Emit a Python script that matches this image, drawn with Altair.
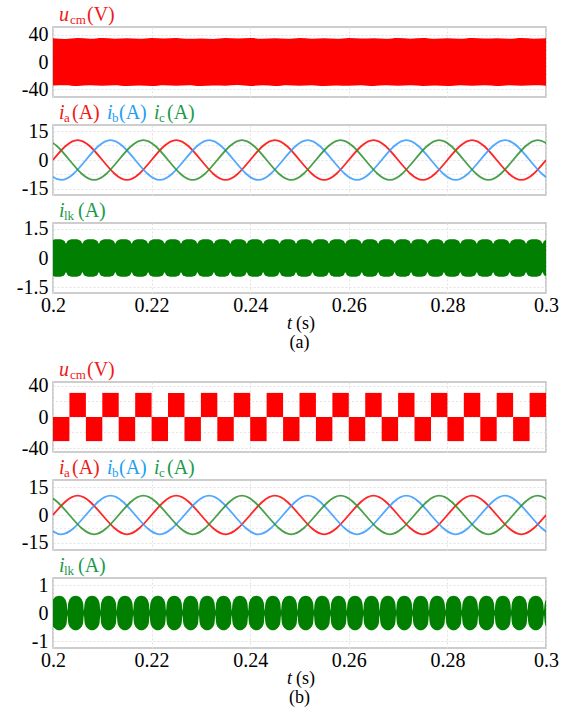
import altair as alt
import pandas as pd

FONT = "Liberation Serif"

# ---------------- values ----------------
X_TICKS = [0.2, 0.22, 0.24, 0.26, 0.28, 0.3]

# (a) common-mode voltage: envelope of the filled PWM band
UCM_A_T = [0.2, 0.2025, 0.205, 0.2075, 0.21, 0.2125, 0.215, 0.2175, 0.22, 0.2225,
           0.225, 0.2275, 0.23, 0.2325, 0.235, 0.2375, 0.24, 0.2425, 0.245, 0.2475,
           0.25, 0.2525, 0.255, 0.2575, 0.26, 0.2625, 0.265, 0.2675, 0.27, 0.2725,
           0.275, 0.2775, 0.28, 0.2825, 0.285, 0.2875, 0.29, 0.2925, 0.295, 0.2975, 0.3]
UCM_A_HI = [34.5, 33.6, 34.8, 33.9, 35.0, 34.0, 34.6, 33.7, 34.9, 34.1,
            35.1, 33.8, 34.4, 33.6, 34.8, 34.2, 35.0, 33.9, 34.5, 33.7,
            34.9, 34.0, 34.7, 33.8, 35.0, 34.1, 34.6, 33.7, 34.8, 34.0,
            35.0, 33.9, 34.5, 33.8, 34.9, 34.2, 34.7, 33.7, 34.8, 34.0, 34.6]
UCM_A_LO = [-34.3, -33.8, -34.9, -34.0, -34.7, -33.7, -34.8, -34.1, -35.0, -33.9,
            -34.6, -33.8, -34.9, -34.2, -34.5, -33.6, -34.8, -34.0, -35.0, -33.9,
            -34.6, -33.7, -34.9, -34.1, -34.7, -33.8, -35.0, -34.0, -34.6, -33.9,
            -34.8, -34.1, -34.9, -33.7, -34.6, -34.0, -35.0, -33.8, -34.7, -34.0, -34.5]

# three-phase currents, sampled every quarter period (peaks and zero crossings)
IA_T = [0.2, 0.205, 0.21, 0.215, 0.22, 0.225, 0.23, 0.235, 0.24, 0.245, 0.25,
        0.255, 0.26, 0.265, 0.27, 0.275, 0.28, 0.285, 0.29, 0.295, 0.3]
IA_V = [0, 10.5, 0, -10.5, 0, 10.5, 0, -10.5, 0, 10.5, 0,
        -10.5, 0, 10.5, 0, -10.5, 0, 10.5, 0, -10.5, 0]
IB_T = [0.19667, 0.20167, 0.20667, 0.21167, 0.21667, 0.22167, 0.22667, 0.23167,
        0.23667, 0.24167, 0.24667, 0.25167, 0.25667, 0.26167, 0.26667, 0.27167,
        0.27667, 0.28167, 0.28667, 0.29167, 0.29667, 0.30167, 0.30667]
IB_V = [0, -10.5, 0, 10.5, 0, -10.5, 0, 10.5, 0, -10.5, 0, 10.5,
        0, -10.5, 0, 10.5, 0, -10.5, 0, 10.5, 0, -10.5, 0]
IC_T = [0.19333, 0.19833, 0.20333, 0.20833, 0.21333, 0.21833, 0.22333, 0.22833,
        0.23333, 0.23833, 0.24333, 0.24833, 0.25333, 0.25833, 0.26333, 0.26833,
        0.27333, 0.27833, 0.28333, 0.28833, 0.29333, 0.29833, 0.30333]
IC_V = [0, 10.5, 0, -10.5, 0, 10.5, 0, -10.5, 0, 10.5, 0, -10.5,
        0, 10.5, 0, -10.5, 0, 10.5, 0, -10.5, 0, 10.5, 0]

# leakage current envelopes: one lobe profile (fraction of lobe, amplitude)
LOBE_PERIOD = 0.003333
N_LOBES = 31
ILK_A_START = 0.1993
ILK_A_F = [0.0, 0.08, 0.2, 0.35, 0.5, 0.65, 0.8, 0.92]
ILK_A_V = [0.74, 0.86, 0.93, 0.965, 0.975, 0.965, 0.93, 0.86]
ILK_B_START = 0.1996
ILK_B_F = [0.0, 0.04, 0.1, 0.2, 0.35, 0.5, 0.65, 0.8, 0.9, 0.96]
ILK_B_V = [0.08, 0.32, 0.45, 0.54, 0.6, 0.62, 0.6, 0.54, 0.45, 0.32]

# (b) common-mode voltage: square blocks
UCM_B_EDGES = [0.2, 0.20333, 0.20667, 0.21, 0.21333, 0.21667, 0.22, 0.22333, 0.22667,
               0.23, 0.23333, 0.23667, 0.24, 0.24333, 0.24667, 0.25, 0.25333, 0.25667,
               0.26, 0.26333, 0.26667, 0.27, 0.27333, 0.27667, 0.28, 0.28333, 0.28667,
               0.29, 0.29333, 0.29667, 0.3]
UCM_B_LEVEL = [-31, 31, -31, 31, -31, 31, -31, 31, -31, 31, -31, 31, -31, 31, -31,
               31, -31, 31, -31, 31, -31, 31, -31, 31, -31, 31, -31, 31, -31, 31]

RED, BLUE, GREEN = "#ff0000", "#3399ff", "#2a8f2a"
ILK_FILL = "#007f00"
LBL_RED, LBL_BLUE, LBL_GREEN = "#f01818", "#22a0f0", "#1c9a4c"

W, H = 493, 70
ONE = pd.DataFrame({"k": [0]})

# ---------------- tables ----------------
ucm_a_df = pd.DataFrame({"t": UCM_A_T, "hi": UCM_A_HI, "lo": UCM_A_LO})
cur_df = pd.concat([
    pd.DataFrame({"t": IA_T, "v": IA_V, "ph": "a"}),
    pd.DataFrame({"t": IB_T, "v": IB_V, "ph": "b"}),
    pd.DataFrame({"t": IC_T, "v": IC_V, "ph": "c"}),
])


def envelope(start, fr, vals):
    rows = []
    for k in range(N_LOBES + 1):
        for f, v in zip(fr, vals):
            rows.append({"t": start + (k + f) * LOBE_PERIOD, "hi": v, "lo": -v})
    return pd.DataFrame(rows)


ilk_a_df = envelope(ILK_A_START, ILK_A_F, ILK_A_V)
ilk_b_df = envelope(ILK_B_START, ILK_B_F, ILK_B_V)
ucm_b_df = pd.DataFrame({
    "t0": UCM_B_EDGES[:-1], "t1": UCM_B_EDGES[1:],
    "lo": [min(v, 0) for v in UCM_B_LEVEL], "hi": [max(v, 0) for v in UCM_B_LEVEL],
})

# ---------------- helpers ----------------
XS = alt.Scale(domain=[0.2, 0.3], nice=False, zero=False)
LBL = 20


def xaxis(show):
    return alt.Axis(values=X_TICKS, grid=True, labels=show, ticks=False, domain=False,
                    title=None, labelFlush=False, labelPadding=2, format="~g",
                    labelFontSize=LBL)


def yaxis(ticks):
    return alt.Axis(values=ticks, grid=True, ticks=False, domain=False, title=None,
                    labelExpr="replace(format(datum.value, '~g'), '\u2212', '-')",
                    labelPadding=5, labelFontSize=LBL)


def txt(text, x, y, size, color, italic=False, align="left", baseline="alphabetic"):
    return alt.Chart(ONE).mark_text(
        align=align, baseline=baseline, font=FONT, fontSize=size,
        fontStyle="italic" if italic else "normal", color=color
    ).encode(x=alt.value(x), y=alt.value(y), text=alt.value(text))


def grid_extra(vals, ys, ticks):
    return alt.Chart(pd.DataFrame({"g": vals})).mark_rule(
        color="#e4e4e4", strokeDash=[2, 2], strokeWidth=1
    ).encode(y=alt.Y("g:Q", scale=ys, axis=yaxis(ticks)))


def ilk_label():
    return [txt("i", 6, -6, 20, LBL_GREEN, True), txt("lk", 11, -3, 13, LBL_GREEN),
            txt("(A)", 25, -6, 20, LBL_GREEN)]


def ucm_label():
    return [txt("u", 6, -6, 20, LBL_RED, True), txt("cm", 17, -3, 13, LBL_RED),
            txt("(V)", 34, -6, 20, LBL_RED)]


def cur_label():
    return [txt("i", 6, -6, 20, LBL_RED, True), txt("a", 11, -3, 13, LBL_RED),
            txt("(A)", 19, -6, 20, LBL_RED),
            txt("i", 54, -6, 20, LBL_BLUE, True), txt("b", 59, -3, 13, LBL_BLUE),
            txt("(A)", 66, -6, 20, LBL_BLUE),
            txt("i", 101, -6, 20, LBL_GREEN, True), txt("c", 106, -3, 13, LBL_GREEN),
            txt("(A)", 114, -6, 20, LBL_GREEN)]


def time_label(tag):
    return [txt("t", 234, H + 31, 18, "black", True, baseline="middle"),
            txt("(s)", 243, H + 31, 18, "black", baseline="middle"),
            txt(tag, W / 2, H + 50, 18, "black", align="center", baseline="middle")]


def ucm_a_panel():
    ticks = [-40, 0, 40]
    ys = alt.Scale(domain=[-51, 51], nice=False)
    band = alt.Chart(ucm_a_df).mark_area(color=RED, interpolate="monotone").encode(
        x=alt.X("t:Q", scale=XS, axis=xaxis(False)),
        y=alt.Y("hi:Q", scale=ys, axis=yaxis(ticks)),
        y2="lo:Q")
    return alt.layer(grid_extra([-20, 20], ys, ticks), band, *ucm_label()).properties(
        width=W, height=H)


def ucm_b_panel():
    ticks = [-40, 0, 40]
    ys = alt.Scale(domain=[-45, 45], nice=False)
    blocks = alt.Chart(ucm_b_df).mark_rect(color=RED).encode(
        x=alt.X("t0:Q", scale=XS, axis=xaxis(False)), x2="t1:Q",
        y=alt.Y("hi:Q", scale=ys, axis=yaxis(ticks)), y2="lo:Q")
    return alt.layer(grid_extra([-20, 20], ys, ticks), blocks, *ucm_label()).properties(
        width=W, height=H)


def cur_panel(dom):
    ticks = [-15, 0, 15]
    ys = alt.Scale(domain=[-dom, dom], nice=False)
    lines = alt.Chart(cur_df).mark_line(
        strokeWidth=1.8, opacity=0.85, interpolate="natural", clip=True
    ).encode(
        x=alt.X("t:Q", scale=XS, axis=xaxis(False)),
        y=alt.Y("v:Q", scale=ys, axis=yaxis(ticks)),
        color=alt.Color("ph:N", scale=alt.Scale(domain=["a", "b", "c"],
                                                range=[RED, BLUE, GREEN]), legend=None),
        detail="ph:N")
    return alt.layer(grid_extra([-7.5, 7.5], ys, ticks), lines, *cur_label()).properties(
        width=W, height=H)


def ilk_panel(df, dom, ticks, extra, tag):
    ys = alt.Scale(domain=[-dom, dom], nice=False)
    band = alt.Chart(df).mark_area(color=ILK_FILL, interpolate="monotone", clip=True).encode(
        x=alt.X("t:Q", scale=XS, axis=xaxis(True)),
        y=alt.Y("hi:Q", scale=ys, axis=yaxis(ticks)),
        y2="lo:Q")
    return alt.layer(grid_extra(extra, ys, ticks), band, *ilk_label(),
                     *time_label(tag)).properties(width=W, height=H)


spacer = alt.Chart(ONE).mark_point(opacity=0).encode(
    x=alt.value(0), y=alt.value(0)
).properties(width=W, height=33, view=alt.ViewBackground(strokeOpacity=0))

chart = alt.vconcat(
    ucm_a_panel(),
    cur_panel(18.4),
    ilk_panel(ilk_a_df, 1.81, [-1.5, 0, 1.5], [-0.75, 0.75], "(a)"),
    spacer,
    ucm_b_panel(),
    cur_panel(19),
    ilk_panel(ilk_b_df, 1.25, [-1, 0, 1], [-0.5, 0.5], "(b)"),
    spacing=28, bounds="flush",
).properties(
    padding={"left": 15, "top": 4, "right": 5, "bottom": 5},
    background="white",
).configure_view(
    stroke="#bdbdbd", strokeWidth=1.5
).configure_axis(
    labelFont=FONT, labelColor="black", gridColor="#e2e2e2", gridDash=[2, 2], gridWidth=1
)

chart.save("out.html", embed_options={"renderer": "svg", "actions": False})
